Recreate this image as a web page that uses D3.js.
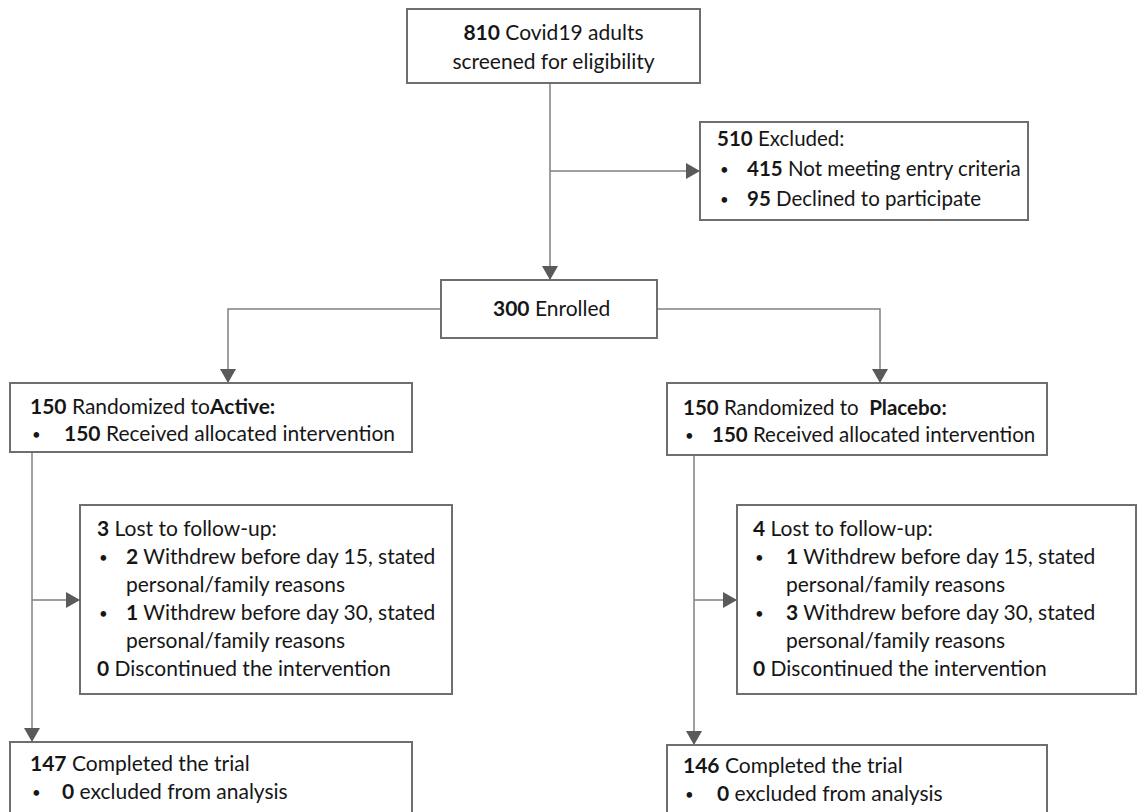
<!DOCTYPE html>
<html>
<head>
<meta charset="utf-8">
<script src="https://cdn.jsdelivr.net/npm/d3@7"></script>
<style>
  body { margin: 0; background: #fff; }
  text { font-family: Lato, "Open Sans", sans-serif; fill: #161616; white-space: pre; }
  .b { font-weight: bold; }
</style>
</head>
<body>
<svg id="chart" width="1138" height="812"></svg>
<script>
// ### text of each box: [bold part, plain part, bullet?, bold tail]
const screenLines = [["810", " Covid19 adults"], ["", "screened for eligibility"]];
const excludedLines = [["510", " Excluded:"], ["415", " Not meeting entry criteria", true], ["95", " Declined to participate", true]];
const enrolledLines = [["300", " Enrolled"]];
const activeLines = [["150", " Randomized to", false, "Active:"], ["150", " Received allocated intervention", true]];
const placeboLines = [["150", " Randomized to  ", false, "Placebo:"], ["150", " Received allocated intervention", true]];
const lostActiveLines = [["3", " Lost to follow-up:"], ["2", " Withdrew before day 15, stated", true], ["", "personal/family reasons", "cont"],
  ["1", " Withdrew before day 30, stated", true], ["", "personal/family reasons", "cont"], ["0", " Discontinued the intervention"]];
const lostPlaceboLines = [["4", " Lost to follow-up:"], ["1", " Withdrew before day 15, stated", true], ["", "personal/family reasons", "cont"],
  ["3", " Withdrew before day 30, stated", true], ["", "personal/family reasons", "cont"], ["0", " Discontinued the intervention"]];
const completeActiveLines = [["147", " Completed the trial"], ["0", " excluded from analysis", true]];
const completePlaceboLines = [["146", " Completed the trial"], ["0", " excluded from analysis", true]];

// layout: box frames and text placement
const boxes = [
  {lines: screenLines, x: 407, y: 9, w: 293, h: 74, center: true, ty: 40, lh: 29, fs: 21},
  {lines: excludedLines, x: 700, y: 122, w: 328, h: 98, tx: 717, bx: 720, ix: 747, ty: 146, lh: 30, fs: 20.5},
  {lines: enrolledLines, x: 441, y: 280, w: 216, h: 58, tx: 493, ty: 316, lh: 25, fs: 21},
  {lines: activeLines, x: 10, y: 383, w: 402, h: 69, tx: 30, bx: 32, ix: 64, ty: 414, lh: 27, fs: 21},
  {lines: placeboLines, x: 667, y: 383, w: 380, h: 72, tx: 683, bx: 685, ix: 712, ty: 415, lh: 27, fs: 20.5},
  {lines: lostActiveLines, x: 80, y: 505, w: 372, h: 189, tx: 97, bx: 99, ix: 126, ty: 536, lh: 28, fs: 21},
  {lines: lostPlaceboLines, x: 737, y: 505, w: 399, h: 189, tx: 753, bx: 755, ix: 786, ty: 536, lh: 28, fs: 21},
  {lines: completeActiveLines, x: 10, y: 742, w: 402, h: 100, tx: 30, bx: 32, ix: 62, ty: 771, lh: 28, fs: 21},
  {lines: completePlaceboLines, x: 667, y: 745, w: 380, h: 100, tx: 683, bx: 685, ix: 717, ty: 773, lh: 28, fs: 21}
];

// connectors: polyline points, last point gets the arrow head
const links = [
  {pts: [[550, 83], [550, 280]]},
  {pts: [[550, 171], [700, 171]]},
  {pts: [[441, 309], [228, 309], [228, 383]]},
  {pts: [[657, 309], [880, 309], [880, 383]]},
  {pts: [[32, 452], [32, 742]]},
  {pts: [[32, 600], [80, 600]]},
  {pts: [[694, 455], [694, 745]]},
  {pts: [[694, 600], [737, 600]]}
];

const svg = d3.select("#chart");

svg.append("defs").append("marker")
  .attr("id", "arrow")
  .attr("viewBox", "0 0 14 16")
  .attr("refX", 14).attr("refY", 8)
  .attr("markerWidth", 14).attr("markerHeight", 16)
  .attr("markerUnits", "userSpaceOnUse")
  .attr("orient", "auto")
  .append("path")
  .attr("d", "M0,0L14,8L0,16Z")
  .attr("fill", "#5a5a5a");

svg.selectAll("path.link")
  .data(links)
  .join("path")
  .attr("class", "link")
  .attr("d", d => d3.line()(d.pts))
  .attr("fill", "none")
  .attr("stroke", "#808080")
  .attr("stroke-width", 1.5)
  .attr("marker-end", "url(#arrow)");

const g = svg.selectAll("g.box")
  .data(boxes)
  .join("g")
  .attr("class", "box");

g.append("rect")
  .attr("x", d => d.x).attr("y", d => d.y)
  .attr("width", d => d.w).attr("height", d => d.h)
  .attr("fill", "#fff")
  .attr("stroke", "#6e6e6e")
  .attr("stroke-width", 2);

g.each(function(d) {
  const box = d3.select(this);
  d.lines.forEach((ln, i) => {
    const y = d.ty + i * d.lh;
    const [bold, plain, bullet, boldTail] = ln;
    if (bullet === true) {
      box.append("text").attr("x", d.bx).attr("y", y - 1)
        .style("font-size", "15px").text("•");
    }
    const x = d.center ? d.x + d.w / 2 : (bullet ? d.ix : d.tx);
    const t = box.append("text")
      .attr("x", x).attr("y", y)
      .style("font-size", d.fs + "px")
      .attr("text-anchor", d.center ? "middle" : "start");
    if (bold) t.append("tspan").attr("class", "b").text(bold);
    t.append("tspan").text(plain);
    if (boldTail) t.append("tspan").attr("class", "b").text(boldTail);
  });
});
</script>
</body>
</html>
